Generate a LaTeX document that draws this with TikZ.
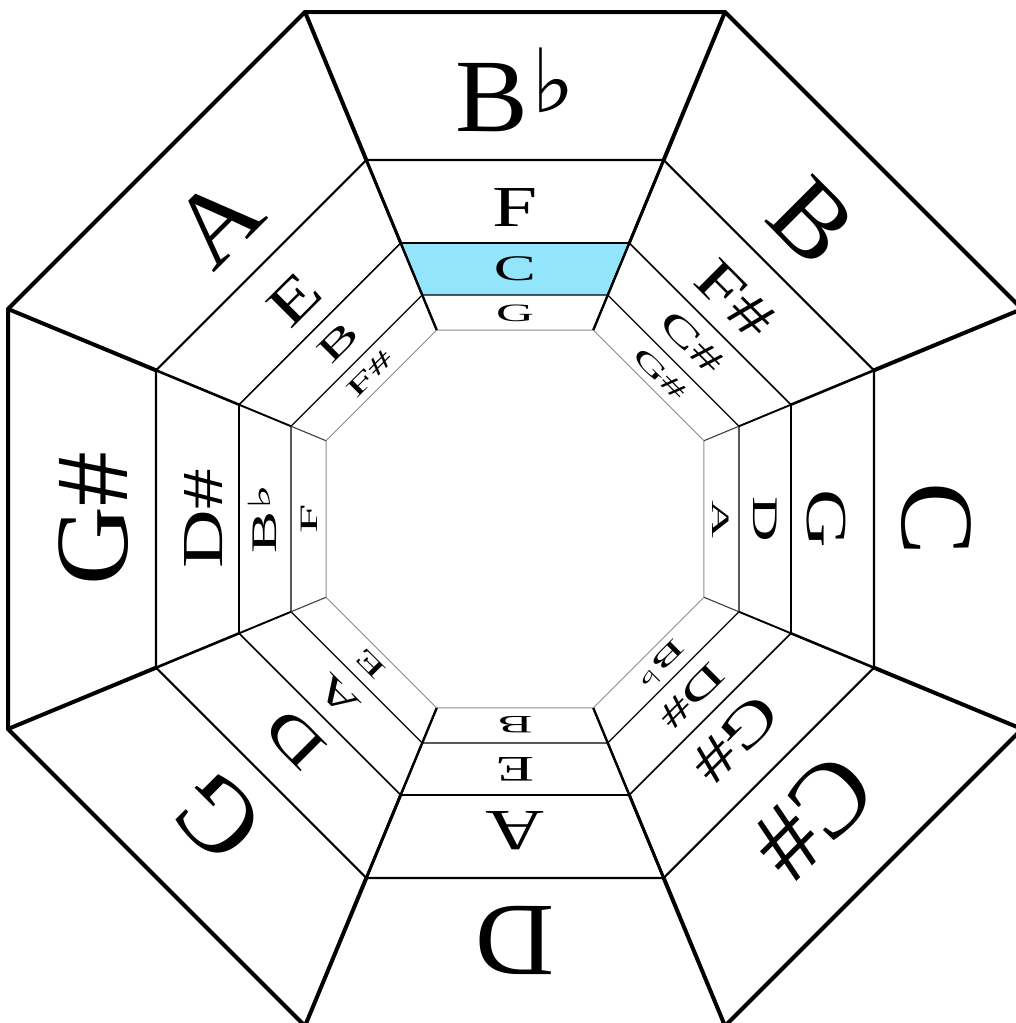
\documentclass[tikz,border=0pt]{standalone}
\usepackage{fontspec}
\setmainfont{Liberation Serif}
\newfontfamily\symfont{DejaVu Sans}
\usepackage{tikz}
\definecolor{keyfill}{HTML}{92E5FB}
\newcommand{\flatsym}{\kern.03em\raisebox{.19em}{\symfont\scalebox{.85}{♭}}}

\begin{document}
\begin{tikzpicture}[
    x=1pt, y=1pt,
    line join=miter,
    lab/.style={anchor=base, inner sep=0pt, outer sep=0pt},
    ringA/.style={lab, font=\fontsize{104}{104}\selectfont},
    ringB/.style={lab, font=\fontsize{58}{58}\selectfont},
    ringC/.style={lab, font=\fontsize{36}{36}\selectfont},
    ringD/.style={lab, font=\fontsize{25}{25}\selectfont},
    rim/.style={line width=4pt},
    faint/.style={line width=1pt, black!45}
]
    \useasboundingbox[fill=white] (-515,-504) rectangle (501,519);

    % highlighted band (C, third ring of the top sector)
    \fill[keyfill] (67.5:298.74) -- (112.5:298.74) -- (112.5:242.46) -- (67.5:242.46) -- cycle;

    % octagon rings
    \draw[rim] (22.5:548.77) \foreach \i in {1,...,7}{ -- ({22.5+45*\i}:548.77)} -- cycle;
    \draw[line width=2.2pt] (22.5:388.58) \foreach \i in {1,...,7}{ -- ({22.5+45*\i}:388.58)} -- cycle;
    \draw[line width=1.6pt] (22.5:298.74) \foreach \i in {1,...,7}{ -- ({22.5+45*\i}:298.74)} -- cycle;
    \draw[line width=1.2pt] (22.5:242.46) \foreach \i in {1,...,7}{ -- ({22.5+45*\i}:242.46)} -- cycle;
    \draw[faint] (22.5:204.57) \foreach \i in {1,...,7}{ -- ({22.5+45*\i}:204.57)} -- cycle;

    % spokes, thinner towards the middle
    \foreach \i in {0,...,7}{
        \draw[rim] ({22.5+45*\i}:388.58) -- ({22.5+45*\i}:548.77);
        \draw[line width=2.6pt] ({22.5+45*\i}:298.74) -- ({22.5+45*\i}:388.58);
        \draw[line width=1.9pt] ({22.5+45*\i}:242.46) -- ({22.5+45*\i}:298.74);
        \draw[line width=1.1pt, black!75] ({22.5+45*\i}:204.57) -- ({22.5+45*\i}:242.46);
    }
    \foreach \a in {67.5,112.5,247.5,292.5}{
        \draw[line width=3pt] (\a:298.74) -- (\a:388.58);
        \draw[line width=2.4pt] (\a:204.57) -- (\a:298.74);
    }

    % key names, outer ring to inner ring
    \foreach \ang/\ka/\kb/\kc/\kd [count=\k] in {
        90/B\flatsym/F/C/G,
        45/B/F\#/C\#/G\#,
        0/C/G/D/A,
        -45/C\#/G\#/D\#/B\flatsym,
        -90/D/A/E/B,
        -135/G/D/A/E,
        180/G\#/D\#/B\flatsym/F,
        135/A/E/B/F\#}{
        \node[ringA, rotate=\ang-90] (k\k-a) at (\ang:387) {\scalebox{1.05}[1]{\ka}};
        \node[ringB, rotate=\ang-90] (k\k-b) at (\ang:292) {\scalebox{1.4}[1]{\kb}};
        \node[ringC, rotate=\ang-90] (k\k-c) at (\ang:238) {\scalebox{1.75}[1]{\kc}};
        \node[ringD, rotate=\ang-90] (k\k-d) at (\ang:197) {\scalebox{2.1}[1]{\kd}};
    }
\end{tikzpicture}
\end{document}
